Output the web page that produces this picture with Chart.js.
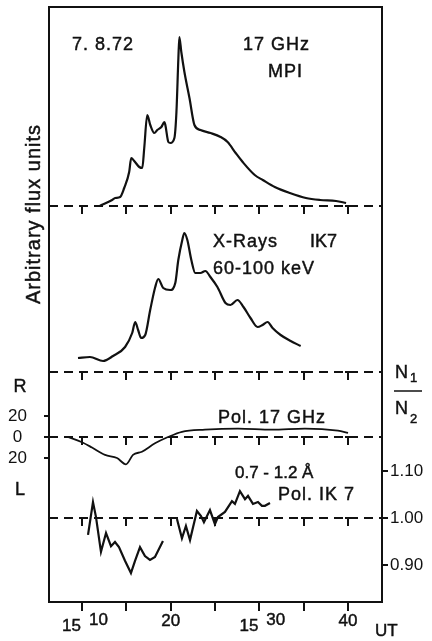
<!DOCTYPE html>
<html lang="en">
<head>
    <meta charset="UTF-8">
    <title>7.8.72 - 17 GHz, X-Rays and polarisation</title>
    <style>
        body { margin: 0; background: #fff; }
        #wrap { width: 432px; height: 641px; }
    </style>
</head>
<body>
    <div id="wrap"><canvas id="myChart"></canvas></div>

    <script src="https://cdn.jsdelivr.net/npm/chart.js@4/dist/chart.umd.min.js"></script>
    <script>
        // time axis: minutes after 15 UT
        var xTickValues = [10, 15, 20, 25, 30, 35, 40];
        var xTickLabels = ['10', '', '20', '', '30', '', '40'];
        var xTickHours = ['15', '', '', '', '15', '', ''];

        // 17 GHz MPI (arbitrary flux units)
        var gyzTime = [12.0, 13.4, 13.74, 14.3, 14.76, 15.32, 15.55, 15.89, 16.46, 16.8, 17.02, 17.36, 17.7, 18.15, 18.49, 18.95, 19.29, 19.4, 19.74, 19.97, 20.42, 20.65, 20.87, 20.98, 21.2, 21.55, 22.12, 22.68, 23.36, 24.5, 25.63, 26.42, 27.33, 28.12, 29.48, 30.39, 31.74, 33.44, 35.25, 36.84, 38.65, 39.78];
        var gyzFlux = [0, 6, 8, 9, 18, 34, 48, 45, 39, 38, 58, 91, 81, 73, 76, 79, 84, 81, 64, 63, 68, 94, 148, 169, 154, 134, 108, 81, 76, 73, 69, 64, 53, 44, 31, 26, 19, 13, 8, 6, 5, 3];

        // X-Rays IK7 60-100 keV (arbitrary flux units)
        var xrayTime = [9.55, 10.9, 12.38, 13.5, 14.86, 15.66, 16.0, 16.33, 16.67, 17.13, 17.69, 18.26, 18.6, 19.16, 19.95, 20.52, 20.86, 21.31, 21.54, 21.88, 22.33, 22.78, 23.35, 23.91, 24.48, 25.27, 26.18, 26.74, 27.53, 28.21, 29.0, 29.8, 30.36, 30.93, 31.49, 32.4, 33.53, 34.66];
        var xrayFlux = [14, 15, 11, 16, 25, 39, 50, 42, 34, 37, 62, 85, 93, 84, 82, 89, 112, 132, 139, 132, 112, 99, 99, 101, 95, 85, 69, 67, 72, 65, 54, 45, 47, 50, 44, 37, 31, 26];

        // Pol. 17 GHz (%; R positive, L negative)
        var pol17Time = [8.42, 10.0, 11.13, 12.6, 13.95, 14.96, 15.75, 16.76, 18.23, 19.7, 21.27, 23.87, 27.59, 31.42, 35.14, 38.86, 40.0];
        var pol17Pct = [0, -5, -10, -17, -20, -26, -17, -14, -6, 0, 5, 7, 8, 7, 8, 6, 4];
        var polTickValues = [-20, 0, 20];
        var polTickLabels = ['20', '0', '20'];

        // Pol. IK7 0.7-1.2 A (N1/N2), null = data gap
        var ik7Time = [10.68, 11.24, 11.58, 12.14, 12.71, 13.27, 13.72, 14.17, 14.85, 15.52, 15.98, 16.54, 17.1, 17.67, 18.23, 19.13, 19.9,
                       20.71, 21.27, 21.72, 22.18, 22.96, 23.42, 23.75, 24.43, 24.99, 25.33, 26.12, 26.91, 27.25, 27.81, 28.38, 28.72, 29.28, 29.84, 30.29, 30.63, 31.2];
        var ik7Ratio = [0.964, 1.034, 1.002, 0.928, 0.968, 0.94, 0.949, 0.938, 0.909, 0.883, 0.909, 0.938, 0.919, 0.911, 0.917, 0.951, null,
                        0.998, 0.957, 0.983, 0.953, 1.015, 1.004, 0.991, 1.017, 0.987, 1.002, 1.013, 1.036, 1.03, 1.057, 1.04, 1.047, 1.03, 1.034, 1.026, 1.026, 1.032];
        var ratioTickValues = [0.90, 1.00, 1.10];
        var ratioTickLabels = ['0.90', '1.00', '1.10'];

        // dashed zero lines of each panel: [axis, value]
        var panelBaselines = [['yFlux', 0], ['yXray', 0], ['yPol', 0], ['yRatio', 1]];

        var INK = '#111';
        var FONT = '"Liberation Sans", Arial, sans-serif';
        Chart.defaults.font.family = FONT;
        Chart.defaults.color = INK;

        function pts(xs, ys) {
            return xs.map(function (x, i) { return { x: x, y: ys[i] }; });
        }

        function fixTicks(values) {
            return function (scale) {
                scale.ticks = values.map(function (v) { return { value: v }; });
            };
        }

        // keep the plot frame where the figure has it
        function fitWidth(w) {
            return function (s) {
                s.width = w;
                s.paddingTop = 0;
                s.paddingBottom = 0;
            };
        }

        // slightly heavier text, like the printed figure
        function inkText(ctx, str, x, y) {
            ctx.fillText(str, x, y);
            ctx.strokeText(str, x, y);
        }

        var baselinePlugin = {
            id: 'baselines',
            beforeDatasetsDraw: function (chart) {
                var ctx = chart.ctx, area = chart.chartArea, xs = chart.scales.x;
                ctx.save();
                ctx.strokeStyle = INK;
                ctx.lineWidth = 2;
                panelBaselines.forEach(function (b) {
                    var y = Math.round(chart.scales[b[0]].getPixelForValue(b[1]));
                    ctx.setLineDash([9, 6]);
                    ctx.beginPath();
                    ctx.moveTo(area.left, y);
                    ctx.lineTo(area.right, y);
                    ctx.stroke();
                    ctx.setLineDash([]);
                    xTickValues.forEach(function (t) {
                        var px = Math.round(xs.getPixelForValue(t));
                        ctx.beginPath();
                        ctx.moveTo(px - 3, y);
                        ctx.lineTo(px + 3, y);
                        ctx.moveTo(px, y);
                        ctx.lineTo(px, y + 8);
                        ctx.stroke();
                    });
                });
                ctx.restore();
            }
        };

        var textPlugin = {
            id: 'texts',
            afterDraw: function (chart) {
                var ctx = chart.ctx, xs = chart.scales.x;
                ctx.save();
                ctx.fillStyle = INK;
                ctx.strokeStyle = INK;
                ctx.lineWidth = 0.45;
                ctx.textBaseline = 'alphabetic';

                // time tick labels with raised minutes
                ctx.font = '17px ' + FONT;
                xTickValues.forEach(function (t, i) {
                    var px = xs.getPixelForValue(t);
                    if (xTickHours[i]) {
                        ctx.textAlign = 'right';
                        inkText(ctx, xTickHours[i], px - 1, 631);
                        ctx.textAlign = 'left';
                        inkText(ctx, xTickLabels[i], px + 7, 625);
                    } else if (xTickLabels[i]) {
                        ctx.textAlign = 'center';
                        inkText(ctx, xTickLabels[i], px, 626);
                    }
                });
                ctx.textAlign = 'left';
                inkText(ctx, 'UT', 375, 636);

                ctx.letterSpacing = '1px';
                ctx.font = '18px ' + FONT;
                inkText(ctx, '7. 8.72', 72, 50);
                inkText(ctx, '17 GHz', 243, 50);
                inkText(ctx, 'MPI', 268, 77);
                inkText(ctx, 'X-Rays', 213, 247);
                ctx.letterSpacing = '0px';
                inkText(ctx, 'IK7', 310, 247);
                ctx.letterSpacing = '1px';
                inkText(ctx, '60-100 keV', 213, 274);
                inkText(ctx, 'Pol. 17 GHz', 218, 423);
                inkText(ctx, 'Pol. IK 7', 278, 500);
                ctx.letterSpacing = '0px';
                ctx.font = '17px ' + FONT;
                inkText(ctx, '0.7 - 1.2 Å', 235, 478);

                ctx.textAlign = 'center';
                ctx.font = '18px ' + FONT;
                inkText(ctx, 'R', 20, 392);
                inkText(ctx, 'L', 20, 495);

                // N1 / N2
                ctx.textAlign = 'left';
                inkText(ctx, 'N', 395, 378);
                inkText(ctx, 'N', 395, 414);
                ctx.font = '13px ' + FONT;
                inkText(ctx, '1', 410, 382);
                inkText(ctx, '2', 410, 423);
                ctx.lineWidth = 1.5;
                ctx.beginPath();
                ctx.moveTo(394, 391);
                ctx.lineTo(422, 391);
                ctx.stroke();

                // rotated y title
                ctx.lineWidth = 0.45;
                ctx.translate(34, 214);
                ctx.rotate(-Math.PI / 2);
                ctx.textAlign = 'center';
                ctx.textBaseline = 'middle';
                ctx.letterSpacing = '1px';
                ctx.font = '20px ' + FONT;
                inkText(ctx, 'Arbitrary flux units', 0, 0);
                ctx.restore();
            }
        };

        var lineStyle = { borderColor: INK, borderWidth: 2.2, pointRadius: 0, fill: false };

        function createChart() {
            var ctx = document.getElementById('myChart').getContext('2d');
            new Chart(ctx, {
                type: 'line',
                data: {
                    datasets: [
                        Object.assign({ label: '17 GHz MPI', data: pts(gyzTime, gyzFlux), yAxisID: 'yFlux', cubicInterpolationMode: 'monotone' }, lineStyle),
                        Object.assign({ label: 'X-Rays IK7 60-100 keV', data: pts(xrayTime, xrayFlux), yAxisID: 'yXray', cubicInterpolationMode: 'monotone' }, lineStyle),
                        Object.assign({ label: 'Pol. 17 GHz', data: pts(pol17Time, pol17Pct), yAxisID: 'yPol', cubicInterpolationMode: 'monotone' }, lineStyle, { borderWidth: 1.8 }),
                        Object.assign({ label: 'Pol. IK7', data: pts(ik7Time, ik7Ratio), yAxisID: 'yRatio', spanGaps: false, tension: 0 }, lineStyle)
                    ]
                },
                options: {
                    responsive: true,
                    maintainAspectRatio: false,
                    animation: false,
                    layout: { padding: { top: 7, left: 0, right: 0, bottom: 0 } },
                    plugins: { legend: { display: false }, tooltip: { enabled: false } },
                    scales: {
                        x: {
                            type: 'linear', position: 'bottom', min: 6.28, max: 43.83,
                            afterBuildTicks: fixTicks(xTickValues),
                            afterFit: function (s) { s.height = 39; s.paddingLeft = 0; s.paddingRight = 0; },
                            ticks: { display: false },
                            grid: { drawOnChartArea: false, drawTicks: true, tickLength: 9, color: INK, lineWidth: 2 },
                            border: { display: true, color: INK, width: 2 }
                        },
                        xTop: {
                            type: 'linear', position: 'top', min: 6.28, max: 43.83,
                            afterFit: function (s) { s.height = 0; s.paddingLeft = 0; s.paddingRight = 0; },
                            ticks: { display: false },
                            grid: { display: false },
                            border: { display: true, color: INK, width: 2 }
                        },
                        yFlux: { type: 'linear', position: 'left', display: false, min: -396, max: 199 },
                        yXray: { type: 'linear', position: 'left', display: false, min: -230, max: 365 },
                        yPol: {
                            type: 'linear', position: 'left', min: -157.1, max: 409.5,
                            afterBuildTicks: fixTicks(polTickValues),
                            afterFit: fitWidth(49),
                            ticks: {
                                crossAlign: 'center', padding: 17,
                                font: { size: 17 }, color: INK,
                                callback: function (v, i) { return polTickLabels[i]; }
                            },
                            grid: { drawOnChartArea: false, drawTicks: true, tickLength: 5, color: INK, lineWidth: 2 },
                            border: { display: true, color: INK, width: 2 }
                        },
                        yRatio: {
                            type: 'linear', position: 'right', min: 0.8213, max: 2.0872,
                            afterBuildTicks: fixTicks(ratioTickValues),
                            afterFit: fitWidth(50),
                            ticks: {
                                padding: 2, font: { size: 17 }, color: INK,
                                callback: function (v, i) { return ratioTickLabels[i]; }
                            },
                            grid: { drawOnChartArea: false, drawTicks: true, tickLength: 6, color: INK, lineWidth: 2 },
                            border: { display: true, color: INK, width: 2 }
                        }
                    }
                },
                plugins: [baselinePlugin, textPlugin]
            });
        }

        createChart();
    </script>
</body>
</html>
